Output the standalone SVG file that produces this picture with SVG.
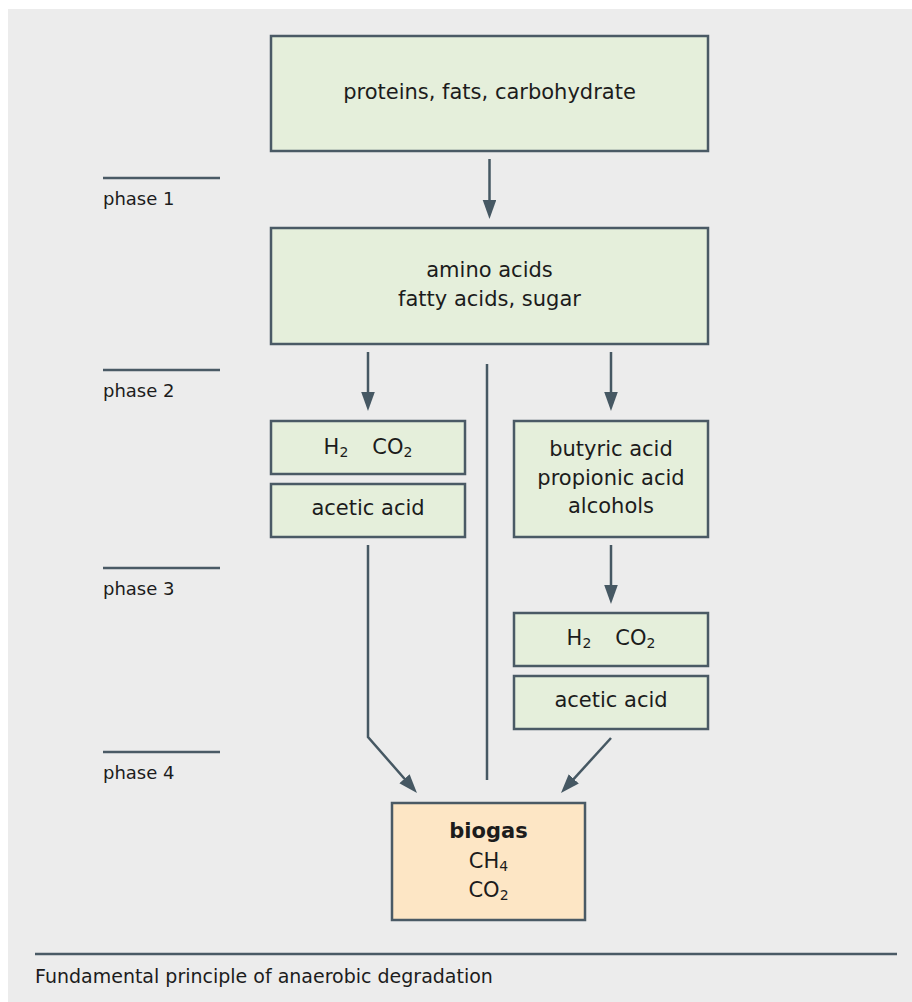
<svg xmlns="http://www.w3.org/2000/svg" width="912" height="1002" viewBox="0 0 912 1002">
<style>
.box{fill:#e5efdb;stroke:#4a5a65;stroke-width:2.5}
.gas{fill:#fde6c5;stroke:#4a5a65;stroke-width:2.5}
.t{font-family:"DejaVu Sans","Liberation Sans",sans-serif;font-size:21px;fill:#1c1c1c;text-anchor:middle}
.b{font-weight:bold}
.sub{font-size:14px}
.ph{font-family:"DejaVu Sans","Liberation Sans",sans-serif;font-size:18px;fill:#1c1c1c}
.cap{font-family:"DejaVu Sans","Liberation Sans",sans-serif;font-size:19px;fill:#1c1c1c}
.rule{stroke:#4a5a65;stroke-width:2.5}
.conn{fill:none;stroke:#465863;stroke-width:2.5}
</style>
<defs>
<marker id="ah" markerUnits="userSpaceOnUse" markerWidth="20" markerHeight="14" refX="9" refY="6.8" orient="auto">
<path d="M0,0 L19,6.8 L0,13.6 z" fill="#465863"/>
</marker>
</defs>
<rect x="8" y="9" width="904" height="993" fill="#ececec"/>

<g id="phases">
<line class="rule" x1="103" y1="178" x2="220" y2="178"/>
<text class="ph" x="103" y="205">phase 1</text>
<line class="rule" x1="103" y1="370" x2="220" y2="370"/>
<text class="ph" x="103" y="397">phase 2</text>
<line class="rule" x1="103" y1="568" x2="220" y2="568"/>
<text class="ph" x="103" y="595">phase 3</text>
<line class="rule" x1="103" y1="752" x2="220" y2="752"/>
<text class="ph" x="103" y="779">phase 4</text>
</g>

<g id="n-input">
<rect class="box" x="271" y="36" width="437" height="115"/>
<text class="t" x="489.5" y="99">proteins, fats, carbohydrate</text>
</g>
<g id="n-hydrolysis">
<rect class="box" x="271" y="228" width="437" height="116"/>
<text class="t" x="489.5" y="277">amino acids</text>
<text class="t" x="489.5" y="306">fatty acids, sugar</text>
</g>
<g id="n-left-h2co2">
<rect class="box" x="271" y="421" width="194" height="53"/>
<text class="t" x="368" y="454">H<tspan class="sub" dy="3">2</tspan><tspan dy="-3" dx="24">CO</tspan><tspan class="sub" dy="3">2</tspan></text>
</g>
<g id="n-left-acetic">
<rect class="box" x="271" y="484" width="194" height="53"/>
<text class="t" x="368" y="515">acetic acid</text>
</g>
<g id="n-right-acids">
<rect class="box" x="514" y="421" width="194" height="116"/>
<text class="t" x="611" y="456">butyric acid</text>
<text class="t" x="611" y="484.5">propionic acid</text>
<text class="t" x="611" y="513">alcohols</text>
</g>
<g id="n-right-h2co2">
<rect class="box" x="514" y="613" width="194" height="53"/>
<text class="t" x="611" y="645">H<tspan class="sub" dy="3">2</tspan><tspan dy="-3" dx="24">CO</tspan><tspan class="sub" dy="3">2</tspan></text>
</g>
<g id="n-right-acetic">
<rect class="box" x="514" y="676" width="194" height="53"/>
<text class="t" x="611" y="707">acetic acid</text>
</g>
<g id="n-biogas">
<rect class="gas" x="392" y="803" width="193" height="117"/>
<text class="t b" x="488.5" y="838">biogas</text>
<text class="t" x="488.5" y="868">CH<tspan class="sub" dy="3">4</tspan></text>
<text class="t" x="488.5" y="897">CO<tspan class="sub" dy="3">2</tspan></text>
</g>

<g id="connectors">
<line class="conn" x1="489.5" y1="159" x2="489.5" y2="209" marker-end="url(#ah)"/>
<line class="conn" x1="368" y1="352" x2="368" y2="401" marker-end="url(#ah)"/>
<line class="conn" x1="611" y1="352" x2="611" y2="401" marker-end="url(#ah)"/>
<line class="conn" x1="487" y1="364" x2="487" y2="780"/>
<line class="conn" x1="611" y1="545" x2="611" y2="594" marker-end="url(#ah)"/>
<polyline class="conn" points="368,545 368,737 410.4,785.5" marker-end="url(#ah)"/>
<line class="conn" x1="611" y1="738" x2="567.7" y2="785.6" marker-end="url(#ah)"/>
</g>

<g id="caption">
<line class="rule" x1="35" y1="954" x2="897" y2="954"/>
<text class="cap" x="35" y="983">Fundamental principle of anaerobic degradation</text>
</g>
</svg>
